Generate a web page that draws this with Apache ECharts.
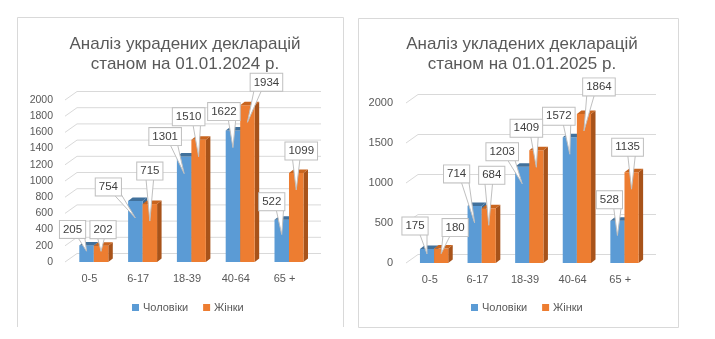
<!DOCTYPE html>
<html>
<head>
<meta charset="utf-8">
<script src="https://cdn.jsdelivr.net/npm/echarts@6/dist/echarts.min.js"></script>
<style>
html,body{margin:0;padding:0;background:#fff;}
#c{width:715px;height:339px;}
</style>
</head>
<body>
<div id="c"></div>
<script>
// ---- data ----
const categories = ['0-5', '6-17', '18-39', '40-64', '65 +'];
const men2024 = [205, 754, 1301, 1622, 522];
const women2024 = [202, 715, 1510, 1934, 1099];
const men2025 = [175, 714, 1203, 1572, 528];
const women2025 = [180, 684, 1409, 1864, 1135];
const ticks2024 = [0, 200, 400, 600, 800, 1000, 1200, 1400, 1600, 1800, 2000];
const ticks2025 = [0, 500, 1000, 1500, 2000];
const title2024 = 'Аналіз украдених декларацій\nстаном на 01.01.2024 р.';
const title2025 = 'Аналіз укладених декларацій\nстаном на 01.01.2025 р.';
const seriesNames = ['Чоловіки', 'Жінки'];

// ---- layout (callout box nudges relative to bar top, px) ----
const nudgeMen2024 = [[-14,-16],[-27,-14],[-19,-20],[-9,-19],[-10,-18]];
const nudgeWomen2024 = [[2,-16],[0,-33],[-10,-23],[19,-23],[5,-22]];
const nudgeMen2025 = [[-12,-23],[-18,-32],[-20,-15],[-11,-21],[-8,-21]];
const nudgeWomen2025 = [[14,-21],[3,-33],[-10,-22],[15,-27],[-4,-25]];

const FONT = "'Liberation Sans', Arial, sans-serif";
const BLUE = {main:'#5B9BD5', top:'#41719C', side:'#3C6A94'};
const ORANGE = {main:'#ED7D31', top:'#C9651F', side:'#A8531A'};
const DX = 4.5, DY = -3.5;       // bar depth
const WALL_DX = 12, WALL_DY = -8.5; // back wall offset

function toPairs(arr){ return arr.map((v,i)=>[i,v]); }

function barGeom(api, left){
  const i = api.value(0), v = api.value(1);
  const base = api.coord([i, 0]);
  const top = api.coord([i, v]);
  const band = api.size([1, 0])[0];
  const bw = band * 0.297, shift = band * 0.09;
  const x0 = left ? base[0] + shift - bw : base[0] + shift;
  return {x0, x1: x0 + bw, yTop: top[1], yB: base[1], cx: x0 + bw/2, v};
}

function barRender(col, left){
  return function(params, api){
    const g = barGeom(api, left);
    const {x0, x1, yTop, yB} = g;
    return {type:'group', children:[
      {type:'polygon', shape:{points:[[x1,yB],[x1,yTop],[x1+DX,yTop+DY],[x1+DX,yB+DY]]}, style:{fill:col.side}},
      {type:'rect', shape:{x:x0, y:yTop, width:x1-x0, height:yB-yTop}, style:{fill:col.main}},
      {type:'polygon', shape:{points:[[x0,yTop],[x1,yTop],[x1+DX,yTop+DY],[x0+DX,yTop+DY]]}, style:{fill:col.top}}
    ]};
  };
}

function calloutRender(nudges, left){
  return function(params, api){
    const g = barGeom(api, left);
    const n = nudges[params.dataIndex];
    const cx = g.cx + n[0], cy = g.yTop + n[1];
    const h = g.yB - g.yTop;
    const tipX = g.cx, tipY = g.yTop + Math.min(17, h * 0.35);
    const bottom = cy + 8;
    const off = Math.max(-8, Math.min(8, tipX - cx));
    const bc = cx + off;
    return {type:'group', children:[
      {type:'polygon', shape:{points:[[bc-4,bottom-2],[bc+4,bottom-2],[tipX,tipY]]},
       style:{fill:'#ffffff', stroke:'#BFBFBF', lineWidth:1}},
      {type:'text', x:cx, y:cy, style:{text:String(g.v), fill:'#404040', fontSize:11.5, fontFamily:FONT,
        align:'center', verticalAlign:'middle', lineHeight:14,
        backgroundColor:'#ffffff', borderColor:'#BFBFBF', borderWidth:1, padding:[2,3,1,3]}}
    ]};
  };
}

function wallRender(params, api){
  const v = api.value(1);
  const p = api.coord([0, v]);
  const cs = params.coordSys;
  const x0 = cs.x, x1 = cs.x + cs.width, y = p[1];
  return {type:'polyline', shape:{points:[[x0,y],[x0+WALL_DX,y+WALL_DY],[x1+WALL_DX,y+WALL_DY]]},
    style:{stroke:'#D9D9D9', lineWidth:1, fill:null}};
}

function panelSeries(idx, men, women, ticks, nm, nw){
  const common = {type:'custom', coordinateSystem:'cartesian2d', xAxisIndex:idx, yAxisIndex:idx};
  return [
    Object.assign({}, common, {name:'wall'+idx, data: ticks.map(t=>[0,t]), renderItem: wallRender, silent:true, z:1}),
    Object.assign({}, common, {name:seriesNames[0], data: toPairs(men), renderItem: barRender(BLUE, true), itemStyle:{color:BLUE.main}, z:2}),
    Object.assign({}, common, {name:seriesNames[1], data: toPairs(women), renderItem: barRender(ORANGE, false), itemStyle:{color:ORANGE.main}, z:3}),
    Object.assign({}, common, {name:'lblM'+idx, data: toPairs(men), renderItem: calloutRender(nm, true), silent:true, z:5}),
    Object.assign({}, common, {name:'lblW'+idx, data: toPairs(women), renderItem: calloutRender(nw, false), silent:true, z:6})
  ];
}

const axisLabelStyle = {color:'#595959', fontFamily:FONT};
const plain = v => String(v);

const option = {
  animation:false,
  backgroundColor:'#ffffff',
  title:[
    {text:title2024, left:180, top:29, textAlign:'center',
     textStyle:{fontSize:17, lineHeight:20.5, color:'#595959', fontWeight:'normal', fontFamily:FONT}},
    {text:title2025, left:517, top:29, textAlign:'center',
     textStyle:{fontSize:17, lineHeight:20.5, color:'#595959', fontWeight:'normal', fontFamily:FONT}}
  ],
  legend:[
    {data:seriesNames, left:127, top:297, icon:'rect', itemWidth:7, itemHeight:7, itemGap:15,
     textStyle:{fontSize:11, color:'#595959', fontFamily:FONT, padding:[0,0,0,-1]}, selectedMode:false},
    {data:seriesNames, left:466, top:297, icon:'rect', itemWidth:7, itemHeight:7, itemGap:15,
     textStyle:{fontSize:11, color:'#595959', fontFamily:FONT, padding:[0,0,0,-1]}, selectedMode:false}
  ],
  grid:[
    {left:65, top:100, width:244, height:162},
    {left:406, top:103, width:238, height:160}
  ],
  xAxis:[0,1].map(i=>({type:'category', gridIndex:i, data:categories,
    axisLine:{show:false}, axisTick:{show:false}, splitLine:{show:false},
    axisLabel:Object.assign({fontSize:11, margin:11}, axisLabelStyle)})),
  yAxis:[
    {type:'value', gridIndex:0, min:0, max:2000, interval:200, axisLine:{show:false}, axisTick:{show:false},
     splitLine:{show:false}, axisLabel:Object.assign({fontSize:10.5, margin:12, formatter:plain}, axisLabelStyle)},
    {type:'value', gridIndex:1, min:0, max:2000, interval:500, axisLine:{show:false}, axisTick:{show:false},
     splitLine:{show:false}, axisLabel:Object.assign({fontSize:11, margin:13, formatter:plain}, axisLabelStyle)}
  ],
  graphic:[
    {type:'polyline', shape:{points:[[17.5,327],[17.5,17.5],[343.5,17.5],[343.5,327]]}, style:{stroke:'#D9D9D9', lineWidth:1, fill:null}, silent:true},
    {type:'rect', shape:{x:358.5, y:18.5, width:320, height:309}, style:{stroke:'#D9D9D9', lineWidth:1, fill:null}, silent:true}
  ],
  series: panelSeries(0, men2024, women2024, ticks2024, nudgeMen2024, nudgeWomen2024)
    .concat(panelSeries(1, men2025, women2025, ticks2025, nudgeMen2025, nudgeWomen2025))
};

const chart = echarts.init(document.getElementById('c'), null, {renderer:'canvas'});
chart.setOption(option);
</script>
</body>
</html>
